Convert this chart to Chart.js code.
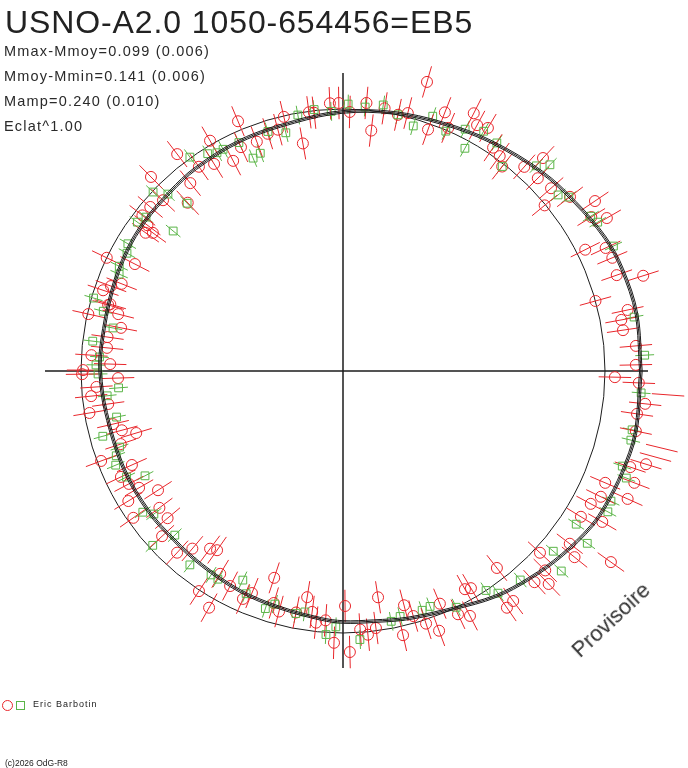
<!DOCTYPE html>
<html lang="fr">
<head>
  <meta charset="UTF-8" />
  <title>USNO-A2.0 1050-654456=EB5</title>
  <script src="https://cdn.jsdelivr.net/npm/chart.js"></script>
  <style>
    body { margin: 0; background: #fff; font-family: 'Liberation Sans', Arial, sans-serif; color: #222; }
    #cadre { position: relative; width: 688px; height: 768px; overflow: hidden; }
    #courbe { position: absolute; left: 0; top: 0; }
    .txt { position: absolute; white-space: nowrap; line-height: 1; }
    #titre { left: 5px; top: 6px; font-size: 32px; letter-spacing: 0.9px; }
    .stat { left: 4px; font-size: 14.5px; letter-spacing: 1.2px; color: #2a2a2a; }
    #auteur { left: 33px; top: 700px; font-size: 9px; letter-spacing: 1px; }
    #copy { left: 5px; top: 759px; font-size: 8.5px; }
    #provisoire { left: 611px; top: 620px; font-size: 22px; color: #333;
                  transform: translate(-50%, -50%) rotate(-43deg); }
    .symRond { position: absolute; left: 2px; top: 700px; width: 9px; height: 9px;
               border: 1px solid #e8262b; border-radius: 50%; }
    .symCarre { position: absolute; left: 16px; top: 701px; width: 7px; height: 7px;
                border: 1px solid #5bb548; }
  </style>
</head>
<body>
<div id="cadre">
  <canvas id="courbe" width="688" height="768"></canvas>

  <div class="txt" id="titre">USNO-A2.0 1050-654456=EB5</div>
  <div class="txt stat" style="top:44px">Mmax-Mmoy=0.099 (0.006)</div>
  <div class="txt stat" style="top:69px">Mmoy-Mmin=0.141 (0.006)</div>
  <div class="txt stat" style="top:94px">Mamp=0.240 (0.010)</div>
  <div class="txt stat" style="top:119px">Eclat^1.00</div>

  <span class="symRond"></span><span class="symCarre"></span>
  <div class="txt" id="auteur">Eric Barbotin</div>
  <div class="txt" id="copy">(c)2026 OdG-R8</div>
  <div class="txt" id="provisoire">Provisoire</div>
</div>

<script>
  // Phases en degrés (0 = à droite, sens trigo), éclat relatif à l'éclat moyen (cercle = 1)
  const phasesRouge = [
    73.8, 88.5, 85, 83.3, 81, 77.9, 75.9, 70.6, 68.5, 66.6, 63.1, 61.4, 59.2, 56.1, 53.9, 52.1, 48.4, 46.8, 44.7, 41.3, 39.4, 37.5, 34, 31.8, 30.1, 26.6, 25.1, 22.8, 19.3, 17.6, 15.5, 12.1, 10.4, 8.3, 4.9, 1.2,
    358.7, 357.7, 355.8, 353.8, 351.7, 348.4, 346.4, 344.6, 342.9, 341.5, 339, 336.9, 335.8, 334, 331.8, 328.5, 329.8, 322.7, 321.2, 324.5, 317.3, 315.4, 314, 312.2, 308, 306.5, 304.7, 300.5, 299.2, 297.4, 295.3, 292.6, 284.6, 286, 288.2, 290.3, 282.8, 278.8, 277.3, 275.4, 273.8, 271.4, 270.5,
    268.1, 266, 263.9, 261, 262.7, 255.1, 253.4, 259, 251.6, 247.7, 246.3, 242.3, 238.8, 240.5, 236.8, 234.9, 233.2, 229.7, 227.6, 222.4, 220, 216.7, 215, 211.2, 212.8, 209.8, 207.8, 205.5, 204, 200.4, 198.2, 196.7, 195, 193, 189.4, 188, 185.7, 183.7, 181.8, 180.7,
    92.8, 90.9, 100, 96.4, 97.5, 103.1, 107.6, 105.1, 110.6, 112.8, 114.5, 120, 117.6, 121.9, 125.2, 127.4, 129.1, 134.7, 136.5, 132.7, 139.6, 142.2, 143.3, 144, 145, 154.4, 152.8, 158.5, 159.9, 161.4, 164, 164.3, 165.8, 167.4, 169, 171.8, 174.4, 176.4, 178.3, 179.8
  ];
  const eclatRouge = [
    1.149, 0.989, 1.027, 0.924, 1.015, 1.000, 1.015, 0.977, 1.061, 1.011, 1.103, 1.069, 1.080, 1.027, 1.015, 0.989, 1.042, 1.115, 1.046, 1.057, 0.996, 1.092, 1.160, 1.115, 1.164, 1.034, 1.107, 1.115, 1.107, 1.202, 1.000, 1.111, 1.080, 1.080, 1.122, 1.118,
    1.038, 1.130, 1.244, 1.160, 1.134, 1.141, 1.252, 1.237, 1.210, 1.156, 1.191, 1.088, 1.191, 1.095, 1.073, 1.065, 1.145, 1.088, 1.134, 1.256, 1.023, 1.084, 1.130, 1.088, 0.954, 1.092, 1.099, 0.962, 0.954, 1.053, 1.027, 0.962, 0.924, 0.973, 1.015, 1.057, 1.034, 0.874, 0.989, 1.011, 0.989, 1.073, 0.897,
    1.038, 0.954, 0.966, 0.874, 0.927, 0.950, 0.924, 0.939, 0.832, 0.916, 0.950, 0.927, 0.905, 1.038, 1.004, 0.836, 0.847, 0.889, 0.939, 0.935, 0.874, 0.874, 0.977, 0.958, 0.840, 0.897, 0.924, 0.939, 0.882, 0.985, 0.893, 0.824, 0.874, 0.901, 0.981, 0.905, 0.966, 0.943, 0.859, 0.996,
    1.023, 1.023, 0.882, 0.992, 0.996, 0.996, 0.950, 0.954, 0.935, 1.034, 0.939, 1.015, 0.905, 0.931, 0.954, 1.042, 0.924, 1.042, 0.947, 0.874, 0.966, 0.969, 0.931, 0.897, 0.920, 1.000, 0.893, 0.908, 0.943, 0.966, 0.924, 0.931, 0.885, 0.996, 0.863, 0.908, 0.905, 0.962, 0.889, 0.992
  ];
  const phasesVert = [
    88.9, 85.2, 81.4, 77.9, 74, 70.6, 66.8, 63.2, 61.3, 59.6, 56, 52.1, 46.7, 44.9, 39.3, 37.6, 32, 30.3, 24.8, 10.5, 3,
    355.8, 348.5, 346.5, 341.2, 339.3, 334.1, 332, 326.7, 324.8, 319.4, 317.5, 310.3, 304.9, 303.1, 295.6, 290.3, 288.3, 283.1, 280.9, 273.6,
    268.4, 266.3, 261, 259, 251.9, 253.7, 246.5, 244.4, 239, 237.1, 231.7, 224.3, 222.5, 217.1, 215.2, 207.9, 206.1, 202.5, 200.5, 198.8, 195.2, 191.5, 186, 184.3, 180.7,
    92.6, 96.3, 100, 103.5, 107.4, 110.8, 112.9, 114.5, 118.4, 120, 121.9, 125.6, 136.7, 134.7, 132.9, 140.5, 142, 144.1, 149.4, 151.4, 154.9, 156.6, 163.7, 166, 169.4, 173.2, 176.7, 178.6
  ];
  const eclatVert = [
    1.019, 1.011, 1.027, 1.000, 0.973, 1.031, 0.996, 1.034, 0.969, 1.061, 1.050, 0.989, 1.076, 1.115, 1.061, 1.088, 1.115, 1.126, 1.137, 1.130, 1.153,
    1.141, 1.126, 1.130, 1.126, 1.156, 1.137, 1.145, 1.065, 1.141, 1.057, 1.130, 1.046, 1.034, 1.000, 1.000, 0.958, 0.962, 0.962, 0.973, 1.027,
    0.977, 1.008, 0.931, 0.943, 0.954, 0.927, 0.927, 0.885, 0.927, 0.927, 0.943, 0.897, 0.985, 0.905, 0.935, 0.855, 0.920, 0.939, 0.924, 0.901, 0.950, 0.882, 0.905, 0.859, 0.935,
    0.992, 1.004, 0.992, 0.935, 0.958, 0.889, 0.882, 0.958, 0.962, 0.962, 0.977, 1.004, 0.996, 0.950, 0.874, 0.840, 0.954, 0.969, 0.954, 0.939, 0.943, 0.931, 0.992, 0.943, 0.893, 0.962, 0.931, 0.943
  ];
  // demi-barres d'erreur (en éclat relatif)
  const erreurRouge = 0.062;
  const erreurVert = 0.036;

  // courbe ajustée et ses deux enveloppes
  const phasesModele = [0, 11, 20, 27, 36, 45, 57, 68, 79, 90, 101, 114, 126, 134, 143, 151, 161, 173, 180, 190, 204, 216, 225, 234, 245, 255, 265, 270, 277, 285, 295, 304, 312, 320, 328, 333, 340, 348, 360];
  const eclatModele = [1.137, 1.141, 1.134, 1.122, 1.095, 1.073, 1.042, 1.019, 1.004, 0.989, 0.969, 0.962, 0.956, 0.950, 0.948, 0.943, 0.933, 0.927, 0.927, 0.918, 0.916, 0.915, 0.912, 0.916, 0.927, 0.935, 0.950, 0.958, 0.962, 0.977, 1.000, 1.038, 1.065, 1.092, 1.118, 1.126, 1.134, 1.141, 1.137];
  const eclatModeleHaut = [1.142, 1.146, 1.139, 1.127, 1.100, 1.078, 1.047, 1.024, 1.009, 0.994, 0.974, 0.967, 0.961, 0.955, 0.953, 0.948, 0.938, 0.932, 0.932, 0.923, 0.921, 0.920, 0.917, 0.921, 0.932, 0.940, 0.955, 0.963, 0.967, 0.982, 1.005, 1.043, 1.070, 1.097, 1.123, 1.131, 1.139, 1.146, 1.142];
  const eclatModeleBas = [1.132, 1.136, 1.129, 1.117, 1.090, 1.068, 1.037, 1.014, 0.999, 0.984, 0.964, 0.957, 0.951, 0.945, 0.943, 0.938, 0.928, 0.922, 0.922, 0.913, 0.911, 0.910, 0.907, 0.911, 0.922, 0.930, 0.945, 0.953, 0.957, 0.972, 0.995, 1.033, 1.060, 1.087, 1.113, 1.121, 1.129, 1.136, 1.132];

  const ROUGE = '#e8262b';
  const VERT = '#5bb548';
  const NOIR = '#1c1c1c';

  // phase/éclat -> coordonnées cartésiennes (unités du graphe)
  function versXY(phase, eclat) {
    const a = phase * Math.PI / 180;
    return { x: eclat * Math.cos(a), y: eclat * Math.sin(a) };
  }
  const polaire = (phases, eclats) => phases.map((p, i) => versXY(p, eclats[i]));

  // axes, cercle de référence et barres d'erreur radiales
  const fondPolaire = {
    id: 'fondPolaire',
    beforeDatasetsDraw(chart) {
      const { ctx, chartArea: zone, scales: { x, y } } = chart;
      const cx = x.getPixelForValue(0), cy = y.getPixelForValue(0);
      const rayon = x.getPixelForValue(1) - cx;
      ctx.save();
      ctx.strokeStyle = NOIR;
      ctx.lineWidth = 1.5;
      ctx.beginPath();
      ctx.moveTo(zone.left, cy); ctx.lineTo(zone.right, cy);
      ctx.moveTo(cx, zone.top); ctx.lineTo(cx, zone.bottom);
      ctx.stroke();
      ctx.lineWidth = 1;
      ctx.beginPath();
      ctx.arc(cx, cy, rayon, 0, 2 * Math.PI);
      ctx.stroke();

      const barres = (phases, eclats, err, couleur) => {
        ctx.strokeStyle = couleur;
        ctx.lineWidth = 1;
        ctx.beginPath();
        phases.forEach((p, i) => {
          const a = versXY(p, eclats[i] - err), b = versXY(p, eclats[i] + err);
          ctx.moveTo(x.getPixelForValue(a.x), y.getPixelForValue(a.y));
          ctx.lineTo(x.getPixelForValue(b.x), y.getPixelForValue(b.y));
        });
        ctx.stroke();
      };
      barres(phasesVert, eclatVert, erreurVert, VERT);
      barres(phasesRouge, eclatRouge, erreurRouge, ROUGE);
      ctx.restore();
    }
  };

  const ligneModele = (eclats) => ({
    data: polaire(phasesModele, eclats),
    showLine: true,
    borderColor: NOIR,
    borderWidth: 1,
    pointRadius: 0,
    tension: 0.35,
    clip: false
  });

  new Chart(document.getElementById('courbe'), {
    type: 'scatter',
    data: {
      datasets: [
        ligneModele(eclatModeleHaut),
        ligneModele(eclatModele),
        ligneModele(eclatModeleBas),
        {
          label: 'Eric Barbotin (V)',
          data: polaire(phasesVert, eclatVert),
          pointStyle: 'rect',
          pointRadius: 5.5,
          borderColor: VERT,
          borderWidth: 1,
          backgroundColor: 'transparent',
          clip: false
        },
        {
          label: 'Eric Barbotin (R)',
          data: polaire(phasesRouge, eclatRouge),
          pointStyle: 'circle',
          pointRadius: 5.5,
          borderColor: ROUGE,
          borderWidth: 1,
          backgroundColor: 'transparent',
          clip: false
        }
      ]
    },
    options: {
      responsive: false,
      animation: false,
      events: [],
      layout: { padding: { left: 45, right: 40, top: 73, bottom: 100 } },
      scales: {
        x: { type: 'linear', display: false, min: -1.1374, max: 1.1641 },
        y: { type: 'linear', display: false, min: -1.1336, max: 1.1374 }
      },
      plugins: {
        legend: { display: false },
        tooltip: { enabled: false }
      }
    },
    plugins: [fondPolaire]
  });
</script>
</body>
</html>
